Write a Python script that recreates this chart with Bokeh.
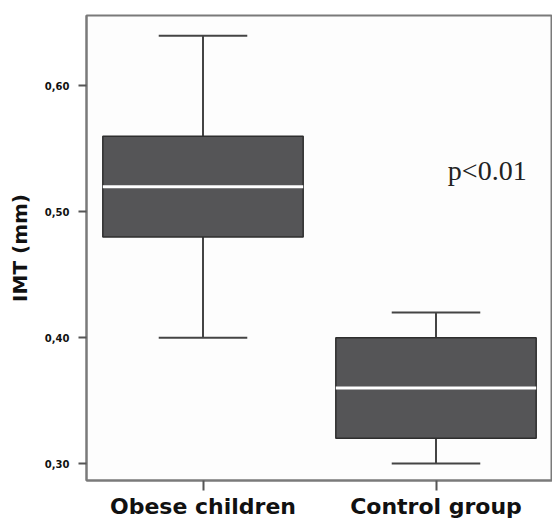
from bokeh.plotting import figure
from bokeh.models import FactorRange, Range1d, FixedTicker, Label
from bokeh.embed import file_html
from bokeh.resources import INLINE

# data
groups = ["Obese children", "Control group"]
lower_whisker = [0.40, 0.30]
q1 = [0.48, 0.32]
median = [0.52, 0.36]
q3 = [0.56, 0.40]
upper_whisker = [0.64, 0.42]
y_ticks = [0.30, 0.40, 0.50, 0.60]
y_tick_labels = ["0,30", "0,40", "0,50", "0,60"]

p = figure(width=552, height=521, x_range=FactorRange(factors=groups, range_padding=0),
           y_range=Range1d(0.2865, 0.656), output_backend="svg", toolbar_location=None,
           min_border_left=86, min_border_right=0, min_border_top=15, min_border_bottom=39)
p.background_fill_color = "#fdfdfd"
p.border_fill_color = "#ffffff"
p.outline_line_color = "#7a7a7a"
p.outline_line_width = 2
p.xgrid.grid_line_color = None
p.ygrid.grid_line_color = None

box_col = "#555557"
line_col = "#444444"

# whisker stems
p.segment(x0=groups, x1=groups, y0=q3, y1=upper_whisker, line_color=line_col, line_width=2)
p.segment(x0=groups, x1=groups, y0=lower_whisker, y1=q1, line_color=line_col, line_width=2)
# caps
p.rect(x=groups, y=upper_whisker, width=0.38, height=2, height_units="screen",
       fill_color=line_col, line_color=None)
p.rect(x=groups, y=lower_whisker, width=0.38, height=2, height_units="screen",
       fill_color=line_col, line_color=None)
# boxes
p.vbar(x=groups, top=q3, bottom=q1, width=0.86, fill_color=box_col,
       line_color="#2e2e2e", line_width=1.5)
# medians
p.rect(x=groups, y=median, width=0.86, height=3, height_units="screen",
       fill_color="#ffffff", line_color=None)

p.add_layout(Label(x=1.72, y=0.533, x_units="data", y_units="data", text="p<0.01",
                   text_font="Liberation Serif", text_font_size="28px", text_color="#222222",
                   text_align="center", text_baseline="alphabetic"))

# axes
for ax in (p.xaxis[0], p.yaxis[0]):
    ax.axis_line_color = "#7a7a7a"
    ax.axis_line_width = 2
    ax.major_tick_line_color = "#555555"
    ax.major_tick_line_width = 2
    ax.major_tick_in = 0
    ax.minor_tick_line_color = None
    ax.major_label_text_color = "#111111"
    ax.major_label_text_font = "DejaVu Sans"
    ax.major_label_text_font_style = "bold"

p.yaxis.ticker = FixedTicker(ticks=y_ticks)
p.yaxis.major_label_overrides = {t: l for t, l in zip(y_ticks, y_tick_labels)}
p.yaxis.major_tick_out = 8
p.yaxis.major_label_text_font_size = "10px"
p.yaxis.major_label_standoff = 9
p.yaxis.axis_label = "IMT (mm)"
p.yaxis.axis_label_text_font = "DejaVu Sans"
p.yaxis.axis_label_text_font_style = "bold"
p.yaxis.axis_label_text_font_size = "20px"
p.yaxis.axis_label_text_color = "#111111"
p.yaxis.axis_label_standoff = 10

p.xaxis.major_tick_out = 10
p.xaxis.major_label_text_font_size = "22px"
p.xaxis.major_label_standoff = 3

open("out.html", "w").write(file_html(p, INLINE))
